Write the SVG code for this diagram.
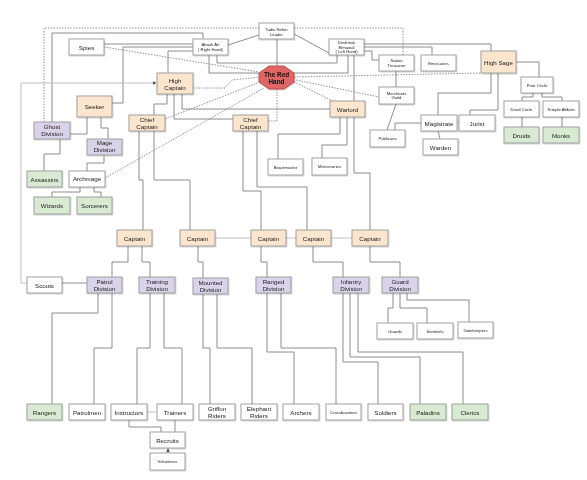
<svg xmlns="http://www.w3.org/2000/svg" width="587" height="480" viewBox="0 0 587 480">
<style>
.w,.o,.p,.g{stroke:#9a9a9a;stroke-width:0.9}
.w{fill:#fff}
.o{fill:#fce5cd}
.p{fill:#d9d2e9}
.g{fill:#d9ead3}
.bg{fill:#fff;stroke:none}
text{font-family:"Liberation Sans",Arial,sans-serif;fill:#222;text-anchor:middle;dominant-baseline:central}
.t{font-size:6.2px}
.s{font-size:4.2px}
.rh{font-size:6.4px;font-weight:bold;fill:#111}
.ln{fill:none;stroke:#808080;stroke-width:0.9}
.lt{fill:none;stroke:#b8b8b8;stroke-width:0.9}
.dt{fill:none;stroke:#707070;stroke-width:0.8;stroke-dasharray:1.4 1.4}
</style>
<defs>
<marker id="ar" viewBox="0 0 6 6" refX="5.5" refY="3" markerWidth="4" markerHeight="4" orient="auto"><path d="M0,0 L6,3 L0,6 z" fill="#555"/></marker>
<filter id="sh" x="-10%" y="-10%" width="130%" height="140%"><feDropShadow dx="0.6" dy="0.8" stdDeviation="0.4" flood-color="#000" flood-opacity="0.25"/></filter>
</defs>
<rect class="bg" x="0" y="0" width="587" height="480"/>

<g id="connectors">
<!-- dotted -->
<path class="dt" d="M44,122 V28 H259"/>
<path class="dt" d="M294,28 H403 V55"/>
<path class="dt" d="M104,47 L259,72"/>
<path class="dt" d="M193,88 L225,88 L232,80 L260,77"/>
<path class="dt" d="M165,119 L260,82"/>
<path class="dt" d="M105,178 L264,88"/>
<path class="dt" d="M277,89 V121 H268"/>
<path class="dt" d="M294,82 L333,101"/>
<path class="dt" d="M296,80 L379,97"/>
<path class="dt" d="M294,77 L481,73"/>
<!-- solid top -->
<path class="ln" d="M277,39 V66"/>
<path class="ln" d="M259,35 L228,45"/>
<path class="ln" d="M294,34 L329,53"/>
<path class="ln" d="M203,39 V33 H52 V122"/>
<path class="ln" d="M104,44 H193"/>
<path class="ln" d="M193,47 H123 V103 H112"/>
<path class="ln" d="M193,51 H168 V73"/>
<path class="ln" d="M209,55 V73 H259"/>
<path class="ln" d="M217,55 V63 H337 V55"/>
<path class="ln" d="M348,55 V73 H294"/>
<path class="ln" d="M354,55 V101"/>
<path class="ln" d="M364,44 H491 V51"/>
<path class="ln" d="M364,47 H432 V55"/>
<path class="ln" d="M364,51 H372 V60 H379"/>
<path class="ln" d="M396,71 V87"/>
<path class="ln" d="M396,104 L387,130"/>
<path class="ln" d="M516,62 H539 V77"/>
<path class="ln" d="M491,73 V93 H438 V115"/>
<path class="ln" d="M498,73 V110 H470 V115"/>
<path class="ln" d="M533,93 V97 H522 V101"/>
<path class="ln" d="M542,93 V97 H562 V101"/>
<path class="ln" d="M522,117 V127"/>
<path class="ln" d="M562,117 V127"/>
<path class="lt" d="M457,123 H459"/>
<path class="ln" d="M438,131 L440,139"/>
<path class="ln" d="M421,123 H395 V130"/>
<!-- command -->
<path class="ln" d="M167,94 V104 H154 V115"/>
<path class="ln" d="M174,94 V119 H233"/>
<path class="ln" d="M182,94 V109 H330"/>
<path class="ln" d="M340,117 V134 H278 V159"/>
<path class="ln" d="M347,117 V145 H322 V158"/>
<path class="ln" d="M354,117 V173 H370 V230"/>
<path class="ln" d="M139,131 V180 H143 V230"/>
<path class="ln" d="M154,131 V180 H190 V230"/>
<path class="ln" d="M243,131 V191 H261 V230"/>
<path class="ln" d="M257,131 V187 H307 V230"/>
<path class="lt" d="M215,238 H251 M286,238 H296 M331,238 H352"/>
<path class="ln" d="M128,246 V262 H112 V277"/>
<path class="ln" d="M142,246 V262 H150 V277"/>
<path class="ln" d="M198,246 V262 H203 V278"/>
<path class="ln" d="M261,246 V262 H267 V277"/>
<path class="ln" d="M313,246 V262 H343 V277"/>
<path class="ln" d="M370,246 V262 H400 V277"/>
<path class="ln" d="M62,283 H87"/>
<path class="lt" d="M27,283 H21 V83 H156" marker-end="url(#ar)"/>
<path class="ln" d="M98,293 V313 H52 V404"/>
<path class="ln" d="M112,293 V348 H94 V404"/>
<path class="ln" d="M150,293 V348 H137 V404"/>
<path class="ln" d="M164,293 V348 H182 V404"/>
<path class="ln" d="M203,294 V348 H210 V404"/>
<path class="ln" d="M217,294 V348 H252 V404"/>
<path class="ln" d="M267,293 V352 H294 V404"/>
<path class="ln" d="M281,293 V348 H336 V404"/>
<path class="ln" d="M343,293 V362 H378 V404"/>
<path class="ln" d="M350,293 V357 H420 V404"/>
<path class="ln" d="M358,293 V352 H463 V404"/>
<path class="ln" d="M393,293 V308 H388 V323"/>
<path class="ln" d="M400,293 V308 H427 V323"/>
<path class="ln" d="M407,293 V300 H469 V322"/>
<path class="lt" d="M147,412 H157"/>
<path class="ln" d="M129,420 V427 H161 V432"/>
<path class="ln" d="M175,420 V432"/>
<path class="ln" d="M168,453 V448.6" marker-end="url(#ar)"/>
<!-- left tree -->
<path class="ln" d="M87,117 V134 H70"/>
<path class="ln" d="M101,117 V128 H108 V139"/>
<path class="ln" d="M60,139 V154 H44 V171"/>
<path class="ln" d="M104,155 V163 H87 V171"/>
<path class="ln" d="M80,187 V192 H52 V197"/>
<path class="ln" d="M94,187 V192 H101 V197"/>
</g>

<g id="nodes" filter="url(#sh)">
<g id="tadio"><rect class="w" x="259" y="23" width="35" height="16"/><text class="s" x="276.5" y="29">Tadio Nefon</text><text class="s" x="276.5" y="34">Leader</text></g>
<g id="abaok"><rect class="w" x="193" y="39" width="35" height="16"/><text class="s" x="210.5" y="44.5">Abaok Ah</text><text class="s" x="210.5" y="49.5">( Right Hand)</text></g>
<g id="spies"><rect class="w" x="69" y="39" width="35" height="16"/><text class="t" x="86.5" y="47">Spies</text></g>
<g id="deshmuk"><rect class="w" x="329" y="39" width="35" height="16"/><text class="s" x="346.5" y="42.7">Deshmuk</text><text class="s" x="346.5" y="47">Elmawal</text><text class="s" x="346.5" y="51.3">( Left Hand)</text></g>
<g id="redhand"><polygon points="269,66 284,66 294,73 294,82 284,89 269,89 259,82 259,73" fill="#e06666" stroke="#b94a48" stroke-width="0.9"/><text class="rh" x="276.5" y="74">The Red</text><text class="rh" x="276.5" y="81.5">Hand</text></g>
<g id="treasurer"><rect class="w" x="379" y="55" width="35" height="16"/><text class="s" x="396.5" y="60.8">Nation</text><text class="s" x="396.5" y="65.3">Treasurer</text></g>
<g id="emissaries"><rect class="w" x="421" y="55" width="35" height="16"/><text class="s" x="438.5" y="63">Emissaries</text></g>
<g id="merchants"><rect class="w" x="379" y="87" width="35" height="17"/><text class="s" x="396.5" y="93">Merchants</text><text class="s" x="396.5" y="97.5">Guild</text></g>
<g id="highsage"><rect class="o" x="481" y="51" width="35" height="22"/><text class="t" x="498.5" y="62">High Sage</text></g>
<g id="prior"><rect class="w" x="521" y="77" width="32" height="16"/><text class="s" x="537" y="85">Prior Circle</text></g>
<g id="druidcircle"><rect class="w" x="504" y="101" width="35" height="16"/><text class="s" x="521.5" y="109">Druid Circle</text></g>
<g id="abbots"><rect class="w" x="543" y="101" width="36" height="16"/><text class="s" x="561" y="109">Temple Abbots</text></g>
<g id="druids"><rect class="g" x="504" y="127" width="35" height="16"/><text class="t" x="521.5" y="135">Druids</text></g>
<g id="monks"><rect class="g" x="543" y="127" width="36" height="16"/><text class="t" x="561" y="135">Monks</text></g>
<g id="magistrate"><rect class="w" x="421" y="115" width="36" height="16"/><text class="t" x="439" y="123">Magistrate</text></g>
<g id="jurist"><rect class="w" x="459" y="115" width="36" height="16"/><text class="t" x="477" y="123">Jurist</text></g>
<g id="warden"><rect class="w" x="423" y="139" width="35" height="16"/><text class="t" x="440.5" y="147">Warden</text></g>
<g id="publicans"><rect class="w" x="370" y="130" width="35" height="17"/><text class="s" x="387.5" y="138.5">Publicans</text></g>
<g id="highcaptain"><rect class="o" x="157" y="73" width="36" height="21"/><text class="t" x="175" y="80">High</text><text class="t" x="175" y="87.5">Captain</text></g>
<g id="seeker"><rect class="o" x="77" y="96" width="35" height="21"/><text class="t" x="94.5" y="106">Seeker</text></g>
<g id="chiefL"><rect class="o" x="129" y="115" width="36" height="16"/><text class="t" x="147" y="119.5">Chief</text><text class="t" x="147" y="126.5">Captain</text></g>
<g id="chiefR"><rect class="o" x="233" y="115" width="35" height="16"/><text class="t" x="250.5" y="119.5">Chief</text><text class="t" x="250.5" y="126.5">Captain</text></g>
<g id="warlord"><rect class="o" x="330" y="101" width="35" height="16"/><text class="t" x="347.5" y="109">Warlord</text></g>
<g id="ghost"><rect class="p" x="34" y="122" width="36" height="17"/><text class="t" x="52" y="126.5">Ghost</text><text class="t" x="52" y="133.5">Division</text></g>
<g id="mage"><rect class="p" x="87" y="139" width="35" height="16"/><text class="t" x="104.5" y="142.5">Mage</text><text class="t" x="104.5" y="149.5">Division</text></g>
<g id="assassins"><rect class="g" x="27" y="171" width="35" height="16"/><text class="t" x="44.5" y="179">Assassins</text></g>
<g id="archmage"><rect class="w" x="69" y="171" width="36" height="16"/><text class="t" x="87" y="178.5">Archmage</text></g>
<g id="wizards"><rect class="g" x="34" y="197" width="36" height="17"/><text class="t" x="52" y="205.5">Wizards</text></g>
<g id="sorcerers"><rect class="g" x="77" y="197" width="35" height="17"/><text class="t" x="94.5" y="205.5">Sorcerers</text></g>
<g id="beastmaster"><rect class="w" x="268" y="159" width="35" height="16"/><text class="s" x="285.5" y="167">Beastmaster</text></g>
<g id="mercenaries"><rect class="w" x="312" y="158" width="35" height="17"/><text class="s" x="329.5" y="166">Mercenaries</text></g>
<g id="captain1"><rect class="o" x="117" y="230" width="35" height="16"/><text class="t" x="134.5" y="238">Captain</text></g>
<g id="captain2"><rect class="o" x="180" y="230" width="35" height="16"/><text class="t" x="197.5" y="238">Captain</text></g>
<g id="captain3"><rect class="o" x="251" y="230" width="35" height="16"/><text class="t" x="268.5" y="238">Captain</text></g>
<g id="captain4"><rect class="o" x="296" y="230" width="35" height="16"/><text class="t" x="313.5" y="238">Captain</text></g>
<g id="captain5"><rect class="o" x="352" y="230" width="36" height="16"/><text class="t" x="370" y="238">Captain</text></g>
<g id="scouts"><rect class="w" x="27" y="277" width="35" height="16"/><text class="t" x="44.5" y="285">Scouts</text></g>
<g id="patrol"><rect class="p" x="87" y="277" width="35" height="16"/><text class="t" x="104.5" y="281.5">Patrol</text><text class="t" x="104.5" y="288.5">Division</text></g>
<g id="training"><rect class="p" x="139" y="277" width="36" height="16"/><text class="t" x="157" y="281.5">Training</text><text class="t" x="157" y="288.5">Division</text></g>
<g id="mounted"><rect class="p" x="193" y="278" width="35" height="16"/><text class="t" x="210.5" y="282.5">Mounted</text><text class="t" x="210.5" y="289.5">Division</text></g>
<g id="ranged"><rect class="p" x="256" y="277" width="35" height="16"/><text class="t" x="273.5" y="281.5">Ranged</text><text class="t" x="273.5" y="288.5">Division</text></g>
<g id="infantry"><rect class="p" x="333" y="277" width="36" height="16"/><text class="t" x="351" y="281.5">Infantry</text><text class="t" x="351" y="288.5">Division</text></g>
<g id="guard"><rect class="p" x="382" y="277" width="36" height="16"/><text class="t" x="400" y="281.5">Guard</text><text class="t" x="400" y="288.5">Division</text></g>
<g id="guards"><rect class="w" x="377" y="323" width="36" height="16"/><text class="s" x="395" y="331">Guards</text></g>
<g id="sentinels"><rect class="w" x="417" y="323" width="36" height="16"/><text class="s" x="435" y="331">Sentinels</text></g>
<g id="gatekeepers"><rect class="w" x="458" y="322" width="35" height="16"/><text class="s" x="475.5" y="330">Gatekeepers</text></g>
<g id="rangers"><rect class="g" x="27" y="404" width="35" height="16"/><text class="t" x="44.5" y="412">Rangers</text></g>
<g id="patrolmen"><rect class="w" x="69" y="404" width="36" height="16"/><text class="t" x="87" y="412">Patrolmen</text></g>
<g id="instructors"><rect class="w" x="111" y="404" width="36" height="16"/><text class="t" x="129" y="412">Instructors</text></g>
<g id="trainers"><rect class="w" x="157" y="404" width="36" height="16"/><text class="t" x="175" y="412">Trainers</text></g>
<g id="griffon"><rect class="w" x="199" y="404" width="36" height="16"/><text class="t" x="217" y="408.5">Griffon</text><text class="t" x="217" y="415.5">Riders</text></g>
<g id="elephant"><rect class="w" x="241" y="404" width="36" height="16"/><text class="t" x="259" y="408.5">Elephant</text><text class="t" x="259" y="415.5">Riders</text></g>
<g id="archers"><rect class="w" x="283" y="404" width="36" height="16"/><text class="t" x="301" y="412">Archers</text></g>
<g id="crossbowmen"><rect class="w" x="326" y="404" width="35" height="16"/><text class="s" x="343.5" y="412">Crossbowmen</text></g>
<g id="soldiers"><rect class="w" x="368" y="404" width="35" height="16"/><text class="t" x="385.5" y="412">Soldiers</text></g>
<g id="paladins"><rect class="g" x="410" y="404" width="36" height="16"/><text class="t" x="428" y="412">Paladins</text></g>
<g id="clerics"><rect class="g" x="452" y="404" width="36" height="16"/><text class="t" x="470" y="412">Clerics</text></g>
<g id="recruits"><rect class="w" x="150" y="432" width="35" height="16"/><text class="t" x="167.5" y="440">Recruits</text></g>
<g id="volunteers"><rect class="w" x="150" y="453" width="35" height="17"/><text class="s" x="167.5" y="461.5">Volunteers</text></g>
</g>
</svg>
